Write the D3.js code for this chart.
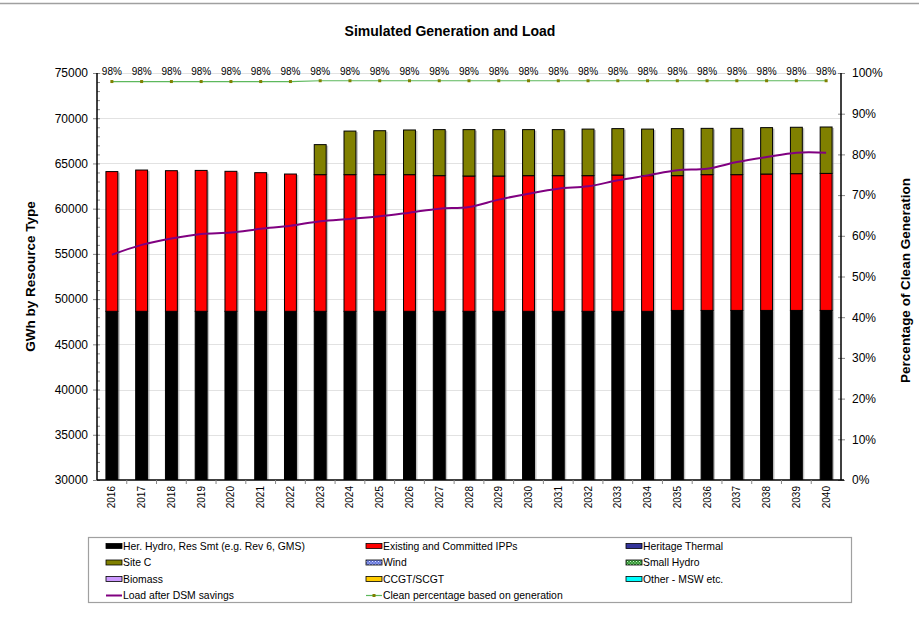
<!DOCTYPE html>
<html>
<head>
<meta charset="utf-8">
<script src="https://cdn.jsdelivr.net/npm/d3@7/dist/d3.min.js"></script>
<style>
  html, body { margin: 0; padding: 0; background: #fff; }
  svg { display: block; font-family: "Liberation Sans", Arial, sans-serif; }
</style>
</head>
<body>
<svg id="chart" width="919" height="626"></svg>
<script>
// ---------------- DATA ----------------
const years = ["2016","2017","2018","2019","2020","2021","2022","2023","2024","2025","2026","2027","2028",
               "2029","2030","2031","2032","2033","2034","2035","2036","2037","2038","2039","2040"];

const herHydro = [48650,48650,48650,48650,48650,48650,48650,48650,48650,48650,48650,48650,48650,
                  48650,48650,48650,48650,48650,48650,48750,48750,48750,48750,48750,48750];
const existingIPPs = [15450,15620,15550,15580,15480,15330,15180,15110,15110,15110,15110,15000,14960,
                      14960,15000,15000,15000,15070,15000,14900,15010,15010,15080,15120,15150];
const heritageThermal = [0,0,0,0,0,0,0,0,0,0,0,0,0,0,0,0,0,0,0,0,0,0,0,0,0];
const siteC = [0,0,0,0,0,0,0,3320,4820,4860,4940,5090,5130,
               5130,5090,5090,5150,5130,5150,5200,5120,5120,5130,5130,5130];
const wind = [0,0,0,0,0,0,0,0,0,0,0,0,0,0,0,0,0,0,0,0,0,0,0,0,0];
const smallHydro = [0,0,0,0,0,0,0,0,0,0,0,0,0,0,0,0,0,0,0,0,0,0,0,0,0];
const biomass = [0,0,0,0,0,0,0,0,0,0,0,0,0,0,0,0,0,0,0,0,0,0,0,0,0];
const ccgt = [0,0,0,0,0,0,0,0,0,0,0,0,0,0,0,0,0,0,0,0,0,0,0,0,0];
const otherMSW = [0,0,0,0,0,0,0,0,0,0,0,0,0,0,0,0,0,0,0,0,0,0,0,0,0];

const loadAfterDSM = [54910,56000,56700,57210,57360,57770,58100,58620,58870,59150,59560,60000,60180,
                      61000,61660,62210,62470,63130,63680,64240,64420,65150,65710,66190,66190];
const cleanPct = [0.979,0.979,0.979,0.979,0.979,0.979,0.979,0.981,0.981,0.981,0.981,0.981,0.981,
                  0.981,0.981,0.981,0.981,0.981,0.981,0.981,0.981,0.981,0.981,0.981,0.981];

const leftTicks = [30000,35000,40000,45000,50000,55000,60000,65000,70000,75000];
const rightTicks = [0,0.1,0.2,0.3,0.4,0.5,0.6,0.7,0.8,0.9,1.0];

const seriesNames = ["Her. Hydro, Res Smt (e.g. Rev 6, GMS)","Existing and Committed IPPs","Heritage Thermal",
                     "Site C","Wind","Small Hydro","Biomass","CCGT/SCGT","Other - MSW etc."];
const seriesValues = [herHydro, existingIPPs, heritageThermal, siteC, wind, smallHydro, biomass, ccgt, otherMSW];
const seriesFills = ["#000000","#FF0000","#333399","#808000","url(#windPat)","url(#smallHydroPat)","#CC99FF","#FFCC00","#00FFFF"];

const chartTitle = "Simulated Generation and Load";
const leftTitle = "GWh by Resource Type";
const rightTitle = "Percentage of Clean Generation";
const loadName = "Load after DSM savings";
const cleanName = "Clean percentage based on generation";

// ---------------- LAYOUT ----------------
const svg = d3.select("#chart");
const plot = { left: 97, right: 841, top: 73, bottom: 480 };

const defs = svg.append("defs");
const wp = defs.append("pattern").attr("id","windPat").attr("width",3).attr("height",3).attr("patternUnits","userSpaceOnUse");
wp.append("rect").attr("width",3).attr("height",3).attr("fill","#6677DD");
wp.append("rect").attr("width",1).attr("height",1).attr("fill","#DDE4FF");
wp.append("rect").attr("x",1.5).attr("y",1.5).attr("width",1).attr("height",1).attr("fill","#DDE4FF");
const sp = defs.append("pattern").attr("id","smallHydroPat").attr("width",3).attr("height",3).attr("patternUnits","userSpaceOnUse");
sp.append("rect").attr("width",3).attr("height",3).attr("fill","#339933");
sp.append("rect").attr("width",1).attr("height",1).attr("fill","#CCEECC");
sp.append("rect").attr("x",1.5).attr("y",1.5).attr("width",1).attr("height",1).attr("fill","#CCEECC");
defs.append("clipPath").attr("id","plotClip").append("rect")
  .attr("x", plot.left).attr("y", plot.top - 5).attr("width", plot.right - plot.left + 5).attr("height", plot.bottom - plot.top + 5);

// top border line
svg.append("line").attr("x1",0).attr("x2",919).attr("y1",3.5).attr("y2",3.5).attr("stroke","#a0a0a0").attr("stroke-width",1.5);

const x = d3.scaleBand().domain(years).range([plot.left, plot.right]).padding(0);
const y = d3.scaleLinear().domain([30000, 75000]).range([plot.bottom, plot.top]);
const y2 = d3.scaleLinear().domain([0, 1]).range([plot.bottom, plot.top]);
const barW = x.bandwidth() * 0.4;

// gridlines
svg.append("g").selectAll("line").data(leftTicks.filter(d => d > 30000)).join("line")
  .attr("x1", plot.left).attr("x2", plot.right)
  .attr("y1", d => Math.round(y(d)) + 0.5).attr("y2", d => Math.round(y(d)) + 0.5)
  .attr("stroke", "#e2e2e2").attr("stroke-width", 1);

// stacked bars
const table = years.map((yr, i) => {
  const o = { year: yr };
  seriesNames.forEach((n, k) => o[n] = seriesValues[k][i]);
  return o;
});
const stacked = d3.stack().keys(seriesNames)(table);

const barsG = svg.append("g").attr("clip-path", "url(#plotClip)");
// shadows
stacked.forEach((layer, k) => {
  barsG.append("g").selectAll("rect").data(layer.filter(d => d[1] - d[0] > 0)).join("rect")
    .attr("x", d => x(d.data.year) + (x.bandwidth() - barW) / 2 + 2)
    .attr("y", d => y(d[1]) + 1)
    .attr("width", barW)
    .attr("height", d => y(d[0]) - y(d[1]))
    .attr("fill", "#9a9a9a").attr("opacity", 0.6);
});
stacked.forEach((layer, k) => {
  barsG.append("g").selectAll("rect").data(layer.filter(d => d[1] - d[0] > 0)).join("rect")
    .attr("x", d => x(d.data.year) + (x.bandwidth() - barW) / 2)
    .attr("y", d => y(d[1]))
    .attr("width", barW)
    .attr("height", d => y(d[0]) - y(d[1]))
    .attr("fill", seriesFills[k])
    .attr("stroke", "#000").attr("stroke-width", 1);
});

// load line
const cx = d => x(d) + x.bandwidth() / 2;
svg.append("path")
  .datum(years.map((yr, i) => [cx(yr), y(loadAfterDSM[i])]))
  .attr("d", d3.line().curve(d3.curveCatmullRom.alpha(0.5)))
  .attr("fill", "none").attr("stroke", "#800080").attr("stroke-width", 2);

// clean percentage line
svg.append("path")
  .datum(years.map((yr, i) => [cx(yr), y2(cleanPct[i])]))
  .attr("d", d3.line())
  .attr("fill", "none").attr("stroke", "#5CB85C").attr("stroke-width", 1.2);
svg.append("g").selectAll("rect").data(years).join("rect")
  .attr("x", d => cx(d) - 1.5).attr("y", (d, i) => y2(cleanPct[i]) - 1.5)
  .attr("width", 3).attr("height", 3).attr("fill", "#808000");
svg.append("g").selectAll("text").data(years).join("text")
  .attr("x", d => cx(d)).attr("y", 75)
  .attr("text-anchor", "middle").attr("font-size", 10).attr("fill", "#000")
  .text((d, i) => d3.format(".0%")(cleanPct[i]));

// left axis
const yAxisG = svg.append("g").attr("transform", `translate(${plot.left},0)`);
yAxisG.call(d3.axisLeft(y).tickValues(d3.range(30000, 75001, 1000)).tickSize(3).tickFormat(""))
  .call(g => g.select(".domain").remove())
  .call(g => g.selectAll(".tick line").attr("stroke", "#888").attr("x2", 3));
yAxisG.append("g").call(d3.axisLeft(y).tickValues(leftTicks).tickSize(4).tickPadding(5).tickFormat(d3.format("d")))
  .call(g => g.select(".domain").remove())
  .call(g => g.selectAll(".tick line").attr("stroke", "#888"))
  .call(g => g.selectAll("text").attr("font-size", 12).attr("font-family", "Liberation Sans, Arial").attr("fill", "#000"));
svg.append("line").attr("x1", plot.left).attr("x2", plot.left).attr("y1", plot.top).attr("y2", plot.bottom)
  .attr("stroke", "#000").attr("stroke-width", 1.5);

// right axis
const y2AxisG = svg.append("g").attr("transform", `translate(${plot.right},0)`);
y2AxisG.call(d3.axisRight(y2).tickValues(rightTicks).tickSize(4).tickPadding(7).tickFormat(d3.format(".0%")))
  .call(g => g.select(".domain").remove())
  .call(g => g.selectAll(".tick line").attr("stroke", "#888").attr("x1", -3))
  .call(g => g.selectAll("text").attr("font-size", 12).attr("font-family", "Liberation Sans, Arial").attr("fill", "#000"));
svg.append("line").attr("x1", plot.right).attr("x2", plot.right).attr("y1", plot.top).attr("y2", plot.bottom)
  .attr("stroke", "#000").attr("stroke-width", 1.5);

// bottom axis
svg.append("line").attr("x1", plot.left).attr("x2", plot.right + 3).attr("y1", plot.bottom).attr("y2", plot.bottom)
  .attr("stroke", "#000").attr("stroke-width", 1.5);
svg.append("g").selectAll("line").data(years.slice(1)).join("line")
  .attr("x1", d => x(d)).attr("x2", d => x(d))
  .attr("y1", plot.bottom).attr("y2", plot.bottom + 4)
  .attr("stroke", "#888");
svg.append("g").selectAll("text").data(years).join("text")
  .attr("transform", d => `translate(${cx(d) + 3.5},${plot.bottom + 6}) rotate(-90)`)
  .attr("text-anchor", "end").attr("font-size", 10).attr("fill", "#000")
  .text(d => d);

// titles
svg.append("text").attr("x", 450).attr("y", 36).attr("text-anchor", "middle")
  .attr("font-size", 14).attr("font-weight", "bold").text(chartTitle);
svg.append("text").attr("transform", `translate(35,${(plot.top + plot.bottom) / 2}) rotate(-90)`)
  .attr("text-anchor", "middle").attr("font-size", 13.5).attr("font-weight", "bold").text(leftTitle);
svg.append("text").attr("transform", `translate(910,${(plot.top + plot.bottom) / 2 + 4}) rotate(-90)`)
  .attr("text-anchor", "middle").attr("font-size", 13.5).attr("font-weight", "bold").text(rightTitle);

// legend
const legend = svg.append("g");
legend.append("rect").attr("x", 88.5).attr("y", 537.5).attr("width", 763).attr("height", 65)
  .attr("fill", "#fff").attr("stroke", "#a0a0a0").attr("stroke-width", 1.2);
const colX = [106, 366, 626];
const rowY = [546, 562.5, 579, 595.5];
seriesNames.forEach((n, k) => {
  const cxl = colX[k % 3], ry = rowY[Math.floor(k / 3)];
  legend.append("rect").attr("x", cxl).attr("y", ry - 2.5).attr("width", 16).attr("height", 5)
    .attr("fill", seriesFills[k]).attr("stroke", "#000").attr("stroke-width", 0.8);
  legend.append("text").attr("x", cxl + 17).attr("y", ry + 3.8).attr("font-size", 10.4).text(n);
});
legend.append("line").attr("x1", colX[0]).attr("x2", colX[0] + 16).attr("y1", rowY[3]).attr("y2", rowY[3])
  .attr("stroke", "#800080").attr("stroke-width", 2);
legend.append("text").attr("x", colX[0] + 17).attr("y", rowY[3] + 3.8).attr("font-size", 10.4).text(loadName);
legend.append("line").attr("x1", colX[1]).attr("x2", colX[1] + 16).attr("y1", rowY[3]).attr("y2", rowY[3])
  .attr("stroke", "#5CB85C").attr("stroke-width", 1.2);
legend.append("rect").attr("x", colX[1] + 6.5).attr("y", rowY[3] - 1.5).attr("width", 3).attr("height", 3).attr("fill", "#808000");
legend.append("text").attr("x", colX[1] + 17).attr("y", rowY[3] + 3.8).attr("font-size", 10.4).text(cleanName);
</script>
</body>
</html>
